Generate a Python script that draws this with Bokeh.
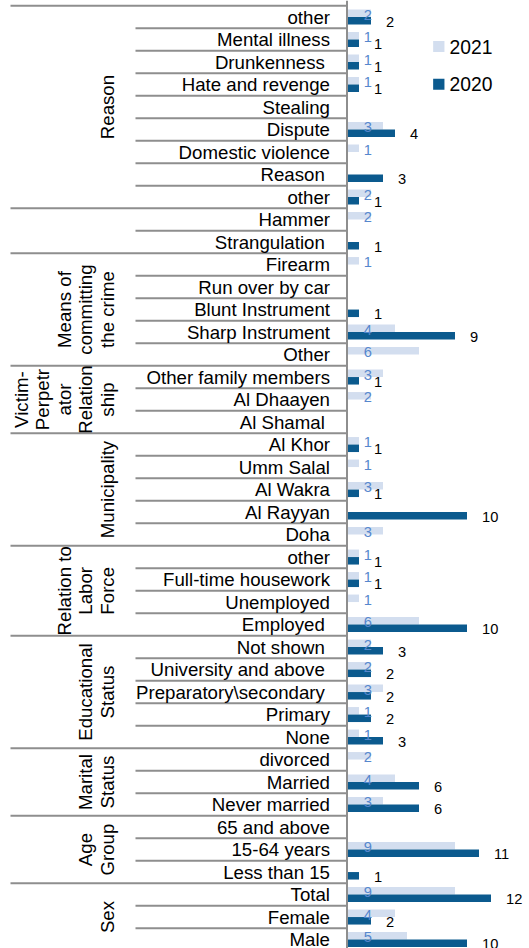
import math
from bokeh.plotting import figure
from bokeh.models import Range1d, ColumnDataSource, Span
from bokeh.embed import file_html
from bokeh.resources import INLINE
from bokeh.core.properties import value

# ---------------- data ----------------
series_names = ["2021", "2020"]

group_names = [
    "Reason", "", "Means of\ncommitting\nthe crime",
    "Victim-\nPerpetr\nator\nRelation\nship", "Municipality",
    "Relation to\nLabor\nForce", "Educational\nStatus", "Marital\nStatus",
    "Age\nGroup", "Sex",
]

reason_cats = ["other", "Mental illness", "Drunkenness ", "Hate and revenge", "Stealing",
               "Dispute", "Domestic violence", "Reason ", "other"]
reason_2021 = [2, 1, 1, 1, None, 3, 1, None, 2]
reason_2020 = [2, 1, 1, 1, None, 4, None, 3, 1]

weapon2_cats = ["Hammer", "Strangulation "]
weapon2_2021 = [2, None]
weapon2_2020 = [None, 1]

means_cats = ["Firearm", "Run over by car", "Blunt Instrument", "Sharp Instrument", "Other"]
means_2021 = [1, None, None, 4, 6]
means_2020 = [None, None, 1, 9, None]

victim_cats = ["Other family members", "Al Dhaayen", "Al Shamal "]
victim_2021 = [3, 2, None]
victim_2020 = [1, None, None]

muni_cats = ["Al Khor", "Umm Salal", "Al Wakra", "Al Rayyan", "Doha"]
muni_2021 = [1, 1, 3, None, 3]
muni_2020 = [1, None, 1, 10, None]

labor_cats = ["other", "Full-time housework", "Unemployed", "Employed "]
labor_2021 = [1, 1, 1, 6]
labor_2020 = [1, 1, None, 10]

edu_cats = ["Not shown ", "University and above ", "Preparatory\\secondary ", "Primary", "None"]
edu_2021 = [2, 2, 3, 1, 1]
edu_2020 = [3, 2, 2, 2, 3]

marital_cats = ["divorced", "Married", "Never married"]
marital_2021 = [2, 4, 3]
marital_2020 = [None, 6, 6]

age_cats = ["65 and above", "15-64 years", "Less than 15"]
age_2021 = [None, 9, None]
age_2020 = [None, 11, 1]

sex_cats = ["Total", "Female", "Male"]
sex_2021 = [9, 4, 5]
sex_2020 = [12, 2, 10]

group_cats = [reason_cats, weapon2_cats, means_cats, victim_cats, muni_cats,
              labor_cats, edu_cats, marital_cats, age_cats, sex_cats]
group_2021 = [reason_2021, weapon2_2021, means_2021, victim_2021, muni_2021,
              labor_2021, edu_2021, marital_2021, age_2021, sex_2021]
group_2020 = [reason_2020, weapon2_2020, means_2020, victim_2020, muni_2020,
              labor_2020, edu_2020, marital_2020, age_2020, sex_2020]

# ---------------- layout constants ----------------
W, H = 529, 948
PX_PER_UNIT = 12.0
ZERO_PX = 346.5              # frame x of value 0
ROW_PX = 22.5
ROW0_PX = 5.3                # frame y of first row boundary

x0 = -ZERO_PX / PX_PER_UNIT
x1 = x0 + W / PX_PER_UNIT
r_top = (0 - ROW0_PX) / ROW_PX
r_bot = (H - ROW0_PX) / ROW_PX

def px_to_x(frame_px):
    return (frame_px - ZERO_PX) / PX_PER_UNIT

def py_to_r(frame_py):
    return (frame_py - ROW0_PX) / ROW_PX

FONT = value("Liberation Sans")
LIGHT = "#D3DEEF"
DARK = "#0B5A8E"
BLUE_TXT = "#5687CD"
LINE = "#8E8E8E"

p = figure(width=W, height=H, x_range=Range1d(x0, x1), y_range=Range1d(r_bot, r_top),
           output_backend="svg", toolbar_location=None,
           x_axis_location=None, y_axis_location=None, min_border=0)
p.outline_line_color = None
p.xgrid.grid_line_color = None
p.ygrid.grid_line_color = None
p.background_fill_color = "white"
p.border_fill_color = "white"

# flatten rows
rows_cat, rows_21, rows_20 = [], [], []
group_spans = []
i = 0
for cats, v21, v20 in zip(group_cats, group_2021, group_2020):
    start = i
    for c, a, b in zip(cats, v21, v20):
        rows_cat.append(c)
        rows_21.append(a)
        rows_20.append(b)
        i += 1
    group_spans.append((start, i))
n_rows = i

# separators
sx0, sx1, sy = [], [], []
group_bounds = set()
for (s, e) in group_spans:
    group_bounds.add(s)
    group_bounds.add(e)
for r in range(n_rows + 1):
    left_px = 10 if r in group_bounds else 135
    sx0.append(px_to_x(left_px))
    sx1.append(0)
    sy.append(r)
p.segment(x0=sx0, x1=sx1, y0=sy, y1=sy, line_color=LINE, line_width=2)

# bars
light_src = ColumnDataSource(dict(
    y=[k + 0.5 - 1 / 6 for k, v in enumerate(rows_21) if v is not None],
    v=[v for v in rows_21 if v is not None]))
dark_src = ColumnDataSource(dict(
    y=[k + 0.5 + 1 / 6 for k, v in enumerate(rows_20) if v is not None],
    v=[v for v in rows_20 if v is not None]))
p.hbar(y="y", left=0, right="v", height=1 / 3, source=light_src,
       fill_color=LIGHT, line_color=None)
p.hbar(y="y", left=0, right="v", height=1 / 3, source=dark_src,
       fill_color=DARK, line_color=None)

# vertical axis line
p.add_layout(Span(location=0, dimension="height", line_color=LINE, line_width=2))

# value labels
lab21 = ColumnDataSource(dict(
    y=[k + 0.5 - 2.3 / ROW_PX for k, v in enumerate(rows_21) if v is not None],
    t=[str(v) for v in rows_21 if v is not None]))
p.text(x=0, y="y", text="t", source=lab21, x_offset=20.8, text_align="center",
       text_baseline="middle", text_font=FONT, text_font_size=value("14.67px"),
       text_color=BLUE_TXT)
lab20 = ColumnDataSource(dict(
    y=[k + 0.5 + 4.5 / ROW_PX for k, v in enumerate(rows_20) if v is not None],
    x=[v for v in rows_20 if v is not None],
    t=[str(v) for v in rows_20 if v is not None]))
p.text(x="x", y="y", text="t", source=lab20, x_offset=15, text_align="left",
       text_baseline="middle", text_font=FONT, text_font_size=value("14.67px"),
       text_color="#000000")

# category labels
cat_src = ColumnDataSource(dict(
    y=[k + 0.5 for k in range(n_rows)],
    t=[c.rstrip() for c in rows_cat],
    off=[-17 - (5.2 if c.endswith(" ") else 0) for c in rows_cat]))
p.text(x=0, y="y", text="t", source=cat_src, x_offset="off", text_align="right",
       text_baseline="middle", text_font=FONT, text_font_size=value("18.67px"),
       text_color="#000000")

# group labels (rotated, multi-line)
gx, gy, gt, goff = [], [], [], []
for name, (s, e) in zip(group_names, group_spans):
    if not name:
        continue
    lines = name.split("\n")
    n = len(lines)
    for k, ln in enumerate(lines):
        gx.append(px_to_x(107))
        gy.append((s + e) / 2)
        gt.append(ln)
        goff.append(-(n - 1 - k) * 21.6)
grp_src = ColumnDataSource(dict(x=gx, y=gy, t=gt, off=goff))
p.text(x="x", y="y", text="t", source=grp_src, x_offset="off", angle=math.pi / 2,
       text_align="center", text_baseline="middle", text_font=FONT,
       text_font_size=value("18.67px"), text_color="#000000")

# legend (drawn from the series names)
leg_src = ColumnDataSource(dict(
    x=[px_to_x(438.3)] * 2,
    y=[py_to_r(46), py_to_r(83.8)],
    tx=[px_to_x(449)] * 2,
    t=series_names,
    c=[LIGHT, DARK]))
p.rect(x="x", y="y", width=11.3, height=11, width_units="screen", height_units="screen",
       source=leg_src, fill_color="c", line_color=None)
p.text(x="tx", y="y", text="t", source=leg_src, text_align="left", text_baseline="middle",
       text_font=FONT, text_font_size=value("19.3px"), text_color="#000000")

open("out.html", "w").write(file_html(p, INLINE))
